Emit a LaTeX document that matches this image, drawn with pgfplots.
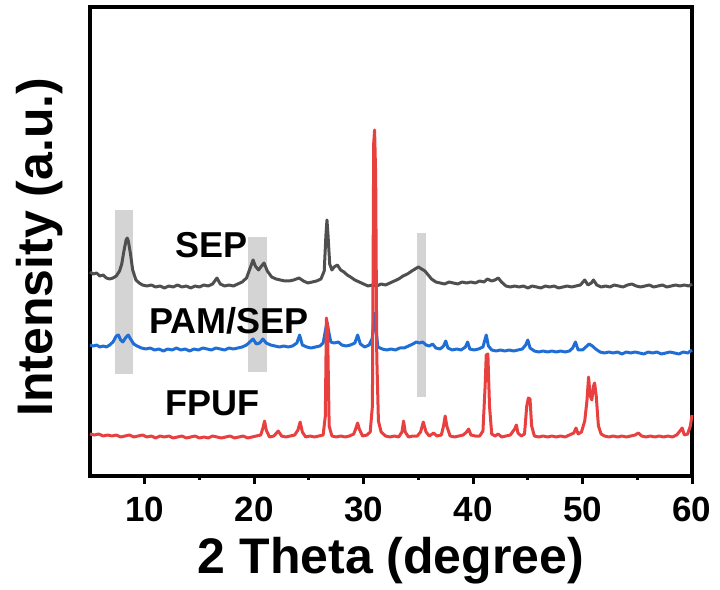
\documentclass[border=0pt]{standalone}
\usepackage{pgfplots}
\pgfplotsset{compat=1.18}
\usepackage{fontspec}
\setmainfont{Liberation Sans}
\definecolor{sepgray}{HTML}{4F4F4F}
\definecolor{pamblue}{HTML}{1F6ED6}
\definecolor{fpufred}{HTML}{E8403F}
\definecolor{bandgray}{HTML}{D4D4D4}
\begin{document}
\begin{tikzpicture}
\begin{axis}[
  scale only axis,
  width=602bp, height=469bp,
  xmin=5, xmax=60, ymin=0, ymax=469,
  xtick={10,20,30,40,50,60},
  minor x tick num=1,
  xtick pos=bottom,
  ytick=\empty,
  tick align=outside,
  major tick length=8bp,
  minor tick length=3.5bp,
  every tick/.style={black, line width=3bp},
  axis line style={line width=3.8bp, black},
  /pgf/number format/assume math mode=true,
  xticklabel style={font=\fontsize{35bp}{40bp}\selectfont\bfseries, anchor=base, yshift=-37bp},
  xlabel={2 Theta (degree)},
  ylabel={Intensity (a.u.)},
  xlabel style={font=\fontsize{50bp}{56bp}\selectfont\bfseries, at={(axis description cs:0.5,0)}, anchor=base, yshift=-97bp},
  ylabel style={font=\fontsize{50bp}{56bp}\selectfont\bfseries, at={(axis description cs:-0.0615,0.488)}, anchor=base},
  clip=false,
]
% shaded bands
\addplot[fill=bandgray, draw=none] coordinates {(7.29,102) (8.93,102) (8.93,266) (7.29,266)} -- cycle;
\addplot[fill=bandgray, draw=none] coordinates {(19.44,104) (21.18,104) (21.18,239) (19.44,239)} -- cycle;
\addplot[fill=bandgray, draw=none] coordinates {(34.89,79) (35.71,79) (35.71,243) (34.89,243)} -- cycle;
% SEP
\addplot[sepgray, line width=3bp, line join=round] coordinates {
(5.0,204) (5.3,202) (5.6,203) (5.9,200) (6.2,201) (6.5,198) (6.8,197) (7.1,198) (7.4,200) (7.7,205)
(7.9,212) (8.1,225) (8.3,236) (8.4,238) (8.5,235) (8.7,222) (8.9,206) (9.2,196) (9.5,193) (9.8,191)
(10.2,190) (10.6,191) (11.0,189) (11.4,190) (11.8,188) (12.2,190) (12.6,189) (13.0,191) (13.4,189) (13.8,190)
(14.2,188) (14.6,190) (15.0,189) (15.4,191) (15.8,190) (16.2,192) (16.6,198) (16.9,192) (17.3,190) (17.7,191)
(18.1,190) (18.5,192) (18.9,194) (19.3,198) (19.6,207) (19.9,216) (20.1,210) (20.4,206) (20.6,209) (20.9,213)
(21.2,205) (21.6,199) (22.0,197) (22.4,196) (22.8,195) (23.2,195) (23.6,196) (24.1,198) (24.5,195) (24.9,193)
(25.3,194) (25.7,195) (26.1,197) (26.4,205) (26.55,240) (26.65,256) (26.75,240) (26.9,212) (27.1,206) (27.3,209)
(27.6,211) (27.9,206) (28.2,204) (28.5,201) (28.8,199) (29.2,196) (29.6,194) (30.0,192) (30.4,190) (30.8,191)
(31.2,190) (31.6,192) (32.0,191) (32.4,193) (32.8,195) (33.2,197) (33.6,200) (34.0,202) (34.4,205) (34.7,207)
(35.0,209) (35.3,207) (35.6,205) (35.9,201) (36.2,197) (36.6,194) (37.0,193) (37.4,192) (37.8,194) (38.2,193)
(38.6,192) (39.0,194) (39.4,193) (39.8,194) (40.2,193) (40.6,195) (41.0,194) (41.3,197) (41.7,195) (42.0,196)
(42.3,198) (42.6,194) (43.0,190) (43.4,189) (43.8,190) (44.2,189) (44.6,190) (45.0,188) (45.4,190) (45.8,189)
(46.2,188) (46.6,190) (47.0,189) (47.4,190) (47.8,188) (48.2,189) (48.6,190) (49.0,189) (49.4,190) (49.8,191)
(50.2,196) (50.5,191) (50.8,193) (51.0,196) (51.3,191) (51.7,189) (52.1,190) (52.5,189) (52.9,191) (53.3,190)
(53.7,189) (54.1,191) (54.5,192) (54.9,190) (55.3,189) (55.7,190) (56.1,191) (56.5,189) (56.9,190) (57.3,191)
(57.7,189) (58.1,190) (58.5,191) (58.9,190) (59.3,191) (59.7,190) (60.0,192)
};
% PAM/SEP
\addplot[pamblue, line width=3bp, line join=round] coordinates {
(5.0,131) (5.3,130) (5.6,131) (5.9,129) (6.2,130) (6.5,129) (6.8,131) (7.1,134) (7.4,140) (7.6,141)
(7.8,136) (8.0,134) (8.3,139) (8.5,141) (8.7,137) (9.0,132) (9.3,130) (9.7,128) (10.1,127) (10.5,128)
(10.9,126) (11.3,127) (11.7,125) (12.1,127) (12.5,126) (12.9,128) (13.3,126) (13.7,127) (14.1,125) (14.5,127)
(14.9,126) (15.3,128) (15.7,127) (16.1,126) (16.5,128) (16.9,127) (17.3,126) (17.7,128) (18.1,127) (18.5,128)
(18.9,129) (19.3,131) (19.6,134) (19.9,137) (20.2,132) (20.5,133) (20.8,137) (21.1,133) (21.5,131) (21.9,130)
(22.3,129) (22.7,130) (23.1,129) (23.5,130) (23.9,133) (24.15,141) (24.4,131) (24.8,129) (25.2,128) (25.6,129)
(26.0,130) (26.3,133) (26.5,145) (26.65,154) (26.8,145) (27.0,134) (27.3,133) (27.7,134) (28.0,131) (28.4,130)
(28.8,131) (29.2,133) (29.45,141) (29.7,132) (30.1,129) (30.5,131) (30.8,138) (30.95,163) (31.1,150) (31.3,129)
(31.7,127) (32.1,126) (32.5,127) (32.9,126) (33.3,128) (33.7,128) (34.1,130) (34.5,132) (34.8,134) (35.1,133)
(35.4,134) (35.7,131) (36.0,130) (36.3,132) (36.6,128) (37.0,127) (37.3,130) (37.5,135) (37.7,128) (38.1,126)
(38.5,127) (38.9,126) (39.3,129) (39.5,134) (39.7,127) (40.1,126) (40.5,127) (40.9,129) (41.2,141) (41.4,130)
(41.7,126) (42.1,125) (42.5,126) (42.9,125) (43.3,126) (43.7,125) (44.1,126) (44.5,127) (44.8,131) (45.0,136)
(45.2,128) (45.6,125) (46.0,124) (46.4,125) (46.8,124) (47.2,125) (47.6,124) (48.0,125) (48.4,124) (48.8,125)
(49.1,128) (49.35,134) (49.6,126) (50.0,126) (50.3,129) (50.6,132) (50.9,130) (51.2,127) (51.6,124) (52.0,123)
(52.4,124) (52.8,123) (53.2,124) (53.6,122) (54.0,124) (54.4,123) (54.8,124) (55.2,123) (55.6,122) (56.0,124)
(56.4,123) (56.8,124) (57.2,122) (57.6,123) (58.0,124) (58.4,123) (58.8,122) (59.2,124) (59.6,123) (60.0,126)
};
% FPUF
\addplot[fpufred, line width=3bp, line join=round] coordinates {
(5.0,42) (5.4,41) (5.8,42) (6.2,40) (6.6,41) (7.0,40) (7.4,41) (7.8,39) (8.2,40) (8.6,41)
(9.0,39) (9.4,40) (9.8,41) (10.2,39) (10.6,40) (11.0,38) (11.4,40) (11.8,39) (12.2,40) (12.6,38)
(13.0,39) (13.4,40) (13.8,38) (14.2,39) (14.6,40) (15.0,38) (15.4,39) (15.8,38) (16.2,40) (16.6,39)
(17.0,38) (17.4,39) (17.8,40) (18.2,38) (18.6,39) (19.0,40) (19.4,38) (19.8,39) (20.2,40) (20.6,41)
(20.8,48) (20.95,55) (21.1,46) (21.4,39) (21.8,40) (22.2,45) (22.5,40) (22.9,39) (23.3,40) (23.7,41)
(24.0,46) (24.2,54) (24.4,44) (24.7,39) (25.1,40) (25.5,39) (25.9,40) (26.3,41) (26.5,60) (26.6,158)
(26.7,150) (26.85,50) (27.1,40) (27.5,39) (27.9,40) (28.3,39) (28.7,40) (29.1,42) (29.3,48) (29.45,53)
(29.6,47) (29.9,40) (30.3,41) (30.6,44) (30.8,70) (30.92,333) (31.0,346) (31.1,300) (31.2,120) (31.35,55)
(31.6,44) (32.0,40) (32.4,39) (32.8,40) (33.2,39) (33.5,44) (33.65,55) (33.8,44) (34.1,39) (34.5,40)
(34.9,40) (35.2,44) (35.45,54) (35.7,44) (36.0,40) (36.4,43) (36.7,40) (37.1,41) (37.3,50) (37.45,60)
(37.6,50) (37.9,40) (38.3,39) (38.7,40) (39.1,41) (39.4,44) (39.6,47) (39.8,41) (40.2,40) (40.6,40)
(40.9,45) (41.1,90) (41.2,121) (41.35,122) (41.5,70) (41.7,42) (42.0,40) (42.3,42) (42.6,39) (43.0,40)
(43.4,41) (43.8,47) (43.95,51) (44.1,43) (44.4,40) (44.7,42) (44.9,70) (45.05,78) (45.2,77) (45.35,50)
(45.6,40) (46.0,39) (46.4,40) (46.8,39) (47.2,40) (47.6,39) (48.0,40) (48.4,39) (48.8,41) (49.2,43)
(49.4,48) (49.6,42) (49.9,44) (50.2,55) (50.4,75) (50.55,99) (50.7,80) (50.85,76) (51.0,90) (51.1,93)
(51.25,80) (51.45,50) (51.7,42) (52.0,40) (52.4,39) (52.8,40) (53.2,39) (53.6,40) (54.0,39) (54.4,40)
(54.8,41) (55.1,43) (55.4,40) (55.8,39) (56.2,40) (56.6,39) (57.0,40) (57.4,39) (57.8,40) (58.2,39)
(58.6,41) (58.9,45) (59.1,48) (59.3,41) (59.6,42) (59.85,50) (60.0,61)
};
\node[font=\fontsize{36bp}{40bp}\selectfont\bfseries, anchor=base] at (axis cs:16.06,218) {SEP};
\node[font=\fontsize{36bp}{40bp}\selectfont\bfseries, anchor=base] at (axis cs:17.7,143) {PAM/SEP};
\node[font=\fontsize{36bp}{40bp}\selectfont\bfseries, anchor=base] at (axis cs:16.2,61) {FPUF};
\end{axis}
\pgfresetboundingbox
\path ([shift={(-90bp,-114bp)}]current axis.south west) rectangle ([shift={(28bp,7bp)}]current axis.north east);
\end{tikzpicture}
\end{document}
